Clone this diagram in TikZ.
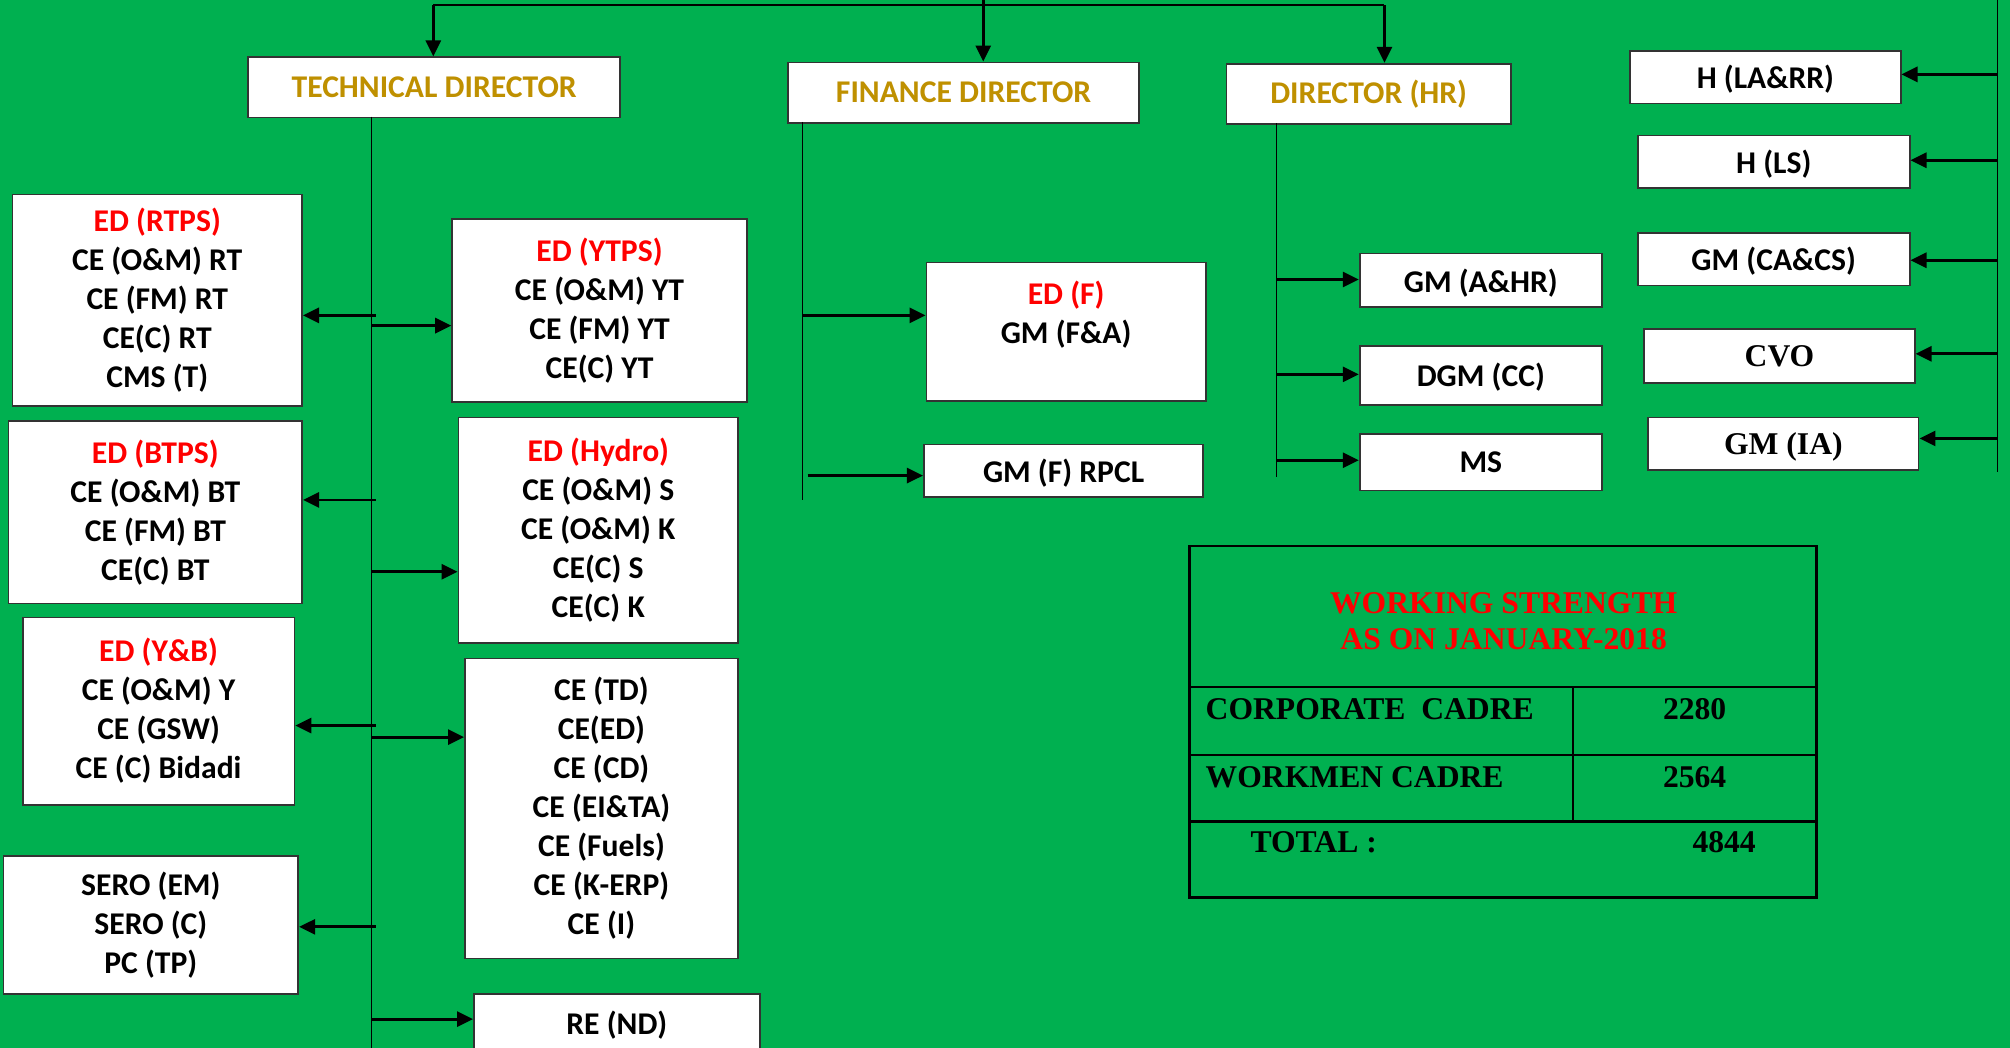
\documentclass[tikz,border=0pt]{standalone}
\usepackage{fontspec}
\setmainfont{Carlito}
\newfontfamily\timesfont{Liberation Serif}
\usetikzlibrary{arrows.meta}
\definecolor{fondvert}{HTML}{00B050}
\definecolor{dore}{HTML}{BF9000}
\newcommand{\pxu}{0.01282cm}
\newcommand{\rouge}[1]{\textcolor{red}{#1}}

\begin{document}
\begin{tikzpicture}[x=\pxu, y=-\pxu]
\tikzset{boite/.style={draw=black!80, fill=white, line width=0.5pt, anchor=north west, align=center, inner sep=0pt, font=\bfseries\fontsize{9}{11.1}\selectfont},
  directeur/.style={boite, text=dore},
  simple/.style={boite, text depth=0pt},
  romain/.style={simple, font=\timesfont\bfseries\fontsize{9}{11}\selectfont},
  fleche/.style={line width=0.8pt, -{Triangle[length=1.6mm, width=1.5mm]}},
  tronc/.style={line width=0.4pt},
  tabtexte/.style={inner sep=0pt, font=\timesfont\bfseries\fontsize{9}{10.5}\selectfont}}
\fill[fondvert] (0,0) rectangle (1568,817.5);
\useasboundingbox (0,0) rectangle (1568,817.5);
% directors
\node[directeur, minimum width=290*\pxu, minimum height=47*\pxu] (TD) at (193,44) {TECHNICAL DIRECTOR};
\node[directeur, minimum width=274*\pxu, minimum height=47*\pxu] (FD) at (614,48) {FINANCE DIRECTOR};
\node[directeur, minimum width=222*\pxu, minimum height=47*\pxu] (HR) at (956,49) {DIRECTOR (HR)};
% top bus
\coordinate (B1) at (338,4);
\coordinate (B2) at (767,0);
\coordinate (B3) at (1080,4);
\draw[tronc] (B1) -- (B3);
\draw[fleche] (B1) -- (B1 |- TD.north);
\draw[fleche] (B2) -- (B2 |- FD.north);
\draw[fleche] (B3) -- (B3 |- HR.north);
% technical side
\node[boite, minimum width=226*\pxu, minimum height=165*\pxu] (RTPS) at (9,151) {\rouge{ED (RTPS)}\\CE (O\&M) RT\\CE (FM) RT\\CE(C) RT\\CMS (T)};
\node[boite, minimum width=229*\pxu, minimum height=142*\pxu] (BTPS) at (6,328) {\rouge{ED (BTPS)}\\CE (O\&M) BT\\CE (FM) BT\\CE(C) BT};
\node[boite, minimum width=212*\pxu, minimum height=146*\pxu] (YB) at (17,481) {\rouge{ED (Y\&B)}\\CE (O\&M) Y\\CE (GSW)\\CE (C) Bidadi};
\node[boite, minimum width=230*\pxu, minimum height=108*\pxu] (SERO) at (2,667) {SERO (EM)\\SERO (C)\\PC (TP)};
\node[boite, minimum width=230*\pxu, minimum height=143*\pxu] (YTPS) at (352,170) {\rouge{ED (YTPS)}\\CE (O\&M) YT\\CE (FM) YT\\CE(C) YT};
\node[boite, minimum width=218*\pxu, minimum height=176*\pxu] (HYD) at (357,325) {\rouge{ED (Hydro)}\\CE (O\&M) S\\CE (O\&M) K\\CE(C) S\\CE(C) K};
\node[boite, minimum width=213*\pxu, minimum height=234*\pxu] (CETD) at (362,513) {CE (TD)\\CE(ED)\\CE (CD)\\CE (EI\&TA)\\CE (Fuels)\\CE (K-ERP)\\CE (I)};
\node[simple, minimum width=223*\pxu, minimum height=45*\pxu] (REND) at (369,775) {RE (ND)};
\coordinate (T0) at (290,91);
\coordinate (T9) at (290,818);
\draw[tronc] (T0) -- (T9);
\coordinate (L1) at (293,246);
\coordinate (L2) at (293,390);
\coordinate (L3) at (293,566);
\coordinate (L4) at (293,723);
\draw[fleche] (L1) -- (L1 -| RTPS.east);
\draw[fleche] (L2) -- (L2 -| BTPS.east);
\draw[fleche] (L3) -- (L3 -| YB.east);
\draw[fleche] (L4) -- (L4 -| SERO.east);
\coordinate (R1) at (290,254);
\coordinate (R2) at (290,446);
\coordinate (R3) at (290,575);
\coordinate (R4) at (290,795);
\draw[fleche] (R1) -- (R1 -| YTPS.west);
\draw[fleche] (R2) -- (R2 -| HYD.west);
\draw[fleche] (R3) -- (R3 -| CETD.west);
\draw[fleche] (R4) -- (R4 -| REND.west);
% finance side
\node[boite, minimum width=218*\pxu, minimum height=108*\pxu] (EDF) at (722,204) {\rouge{ED (F)}\\GM (F\&A)\\~};
\node[simple, minimum width=218*\pxu, minimum height=41*\pxu] (RPCL) at (720,346) {GM (F) RPCL};
\coordinate (F0) at (626,95);
\coordinate (F9) at (626,390);
\draw[tronc] (F0) -- (F9);
\coordinate (F1) at (626,246);
\coordinate (F2) at (630,371);
\draw[fleche] (F1) -- (F1 -| EDF.west);
\draw[fleche] (F2) -- (F2 -| RPCL.west);
% hr side
\node[simple, minimum width=189*\pxu, minimum height=42*\pxu] (GMAHR) at (1060,197) {GM (A\&HR)};
\node[simple, minimum width=189*\pxu, minimum height=46*\pxu] (DGMCC) at (1060,269) {DGM (CC)};
\node[simple, minimum width=189*\pxu, minimum height=44*\pxu] (MS) at (1060,338) {MS};
\coordinate (H0) at (996,96);
\coordinate (H9) at (996,372);
\draw[tronc] (H0) -- (H9);
\coordinate (H1) at (996,218);
\coordinate (H2) at (996,292);
\coordinate (H3) at (996,359);
\draw[fleche] (H1) -- (H1 -| GMAHR.west);
\draw[fleche] (H2) -- (H2 -| DGMCC.west);
\draw[fleche] (H3) -- (H3 -| MS.west);
% right column
\node[simple, minimum width=211*\pxu, minimum height=41*\pxu] (HLARR) at (1271,39) {H (LA\&RR)};
\node[simple, minimum width=212*\pxu, minimum height=41*\pxu] (HLS) at (1277,105) {H (LS)};
\node[simple, minimum width=212*\pxu, minimum height=41*\pxu] (CACS) at (1277,181) {GM (CA\&CS)};
\node[romain, minimum width=211*\pxu, minimum height=42*\pxu] (CVO) at (1282,256) {CVO};
\node[romain, minimum width=211*\pxu, minimum height=41*\pxu] (GMIA) at (1285,325) {GM (IA)};
\coordinate (D0) at (1558,0);
\coordinate (D9) at (1558,368);
\draw[tronc] (D0) -- (D9);
\coordinate (D1) at (1558,58);
\coordinate (D2) at (1558,125);
\coordinate (D3) at (1558,203);
\coordinate (D4) at (1558,276);
\coordinate (D5) at (1558,342);
\draw[fleche] (D1) -- (D1 -| HLARR.east);
\draw[fleche] (D2) -- (D2 -| HLS.east);
\draw[fleche] (D3) -- (D3 -| CACS.east);
\draw[fleche] (D4) -- (D4 -| CVO.east);
\draw[fleche] (D5) -- (D5 -| GMIA.east);
% working strength table
\draw[line width=0.7pt] (928,426) rectangle (1417,700);
\draw[line width=0.7pt] (928,536) -- (1417,536);
\draw[line width=0.7pt] (928,589) -- (1417,589);
\draw[line width=0.7pt] (928,641) -- (1417,641);
\draw[line width=0.7pt] (1227,536) -- (1227,641);
\node[tabtexte, text=red, align=center, anchor=base] (WS) at (1173,507) {WORKING STRENGTH\\AS ON JANUARY-2018};
\node[tabtexte, anchor=base west] (CORP) at (940,561) {CORPORATE\ \ CADRE};
\node[tabtexte, anchor=base] (CORPN) at (1322,561) {2280};
\node[tabtexte, anchor=base west] (WORK) at (940,614) {WORKMEN CADRE};
\node[tabtexte, anchor=base] (WORKN) at (1322,614) {2564};
\node[tabtexte, anchor=base west] (TOT) at (975,665) {TOTAL :};
\node[tabtexte, anchor=base] (TOTN) at (1345,665) {4844};
\end{tikzpicture}
\end{document}
